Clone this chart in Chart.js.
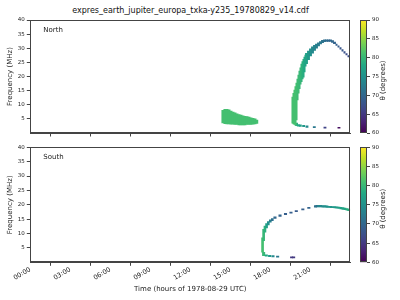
<!DOCTYPE html>
<html>
<head>
<meta charset="utf-8">
<script src="https://cdn.jsdelivr.net/npm/chart.js@4.4.0/dist/chart.umd.min.js"></script>
<style>
body { margin: 0; background: #fff; width: 400px; height: 300px; overflow: hidden; position: relative; font-family: "DejaVu Sans"; }
canvas { position: absolute; }
#title { position: absolute; left: 0; width: 381px; top: 6px; text-align: center; font-size: 8px; color: #111; }
</style>
</head>
<body>
<div id="title">expres_earth_jupiter_europa_txka-y235_19780829_v14.cdf</div>
<canvas id="north" width="360" height="150" style="left:0;top:0"></canvas>
<canvas id="northBar" width="50" height="150" style="left:350px;top:0"></canvas>
<canvas id="south" width="360" height="170" style="left:0;top:130px"></canvas>
<canvas id="southBar" width="50" height="170" style="left:350px;top:130px"></canvas>
<script>
// each row: [time (h), freq low (MHz), freq high (MHz), theta (deg)]
const northBlob = [
    [14.45, 3.6, 8.0, 81], [14.6, 3.3, 8.4, 81], [14.75, 3.2, 8.4, 81], [14.9, 3.2, 8.2, 81],
    [15.05, 3.1, 7.8, 81], [15.2, 3.1, 7.4, 81], [15.35, 3.0, 7.1, 81], [15.5, 3.0, 6.8, 81],
    [15.65, 2.9, 6.5, 81], [15.8, 2.9, 6.3, 81], [15.95, 2.9, 6.1, 81], [16.1, 2.9, 5.9, 81],
    [16.25, 3.0, 5.8, 81], [16.4, 3.0, 5.6, 81], [16.55, 3.0, 5.4, 81], [16.7, 3.1, 5.2, 81],
    [16.85, 3.2, 5.0, 81], [16.98, 3.4, 4.6, 81]
];
// steep rising side of the north arc (fine columns)
const northRise = [
    [19.665, 3.5, 12.7, 81], [19.74, 3.2, 14.0, 81], [19.815, 3.0, 15.2, 81], [19.89, 2.8, 16.4, 81],
    [19.965, 4.6, 17.7, 81], [20.04, 11.7, 19.1, 80.5], [20.115, 14.1, 20.5, 80.5], [20.19, 15.7, 21.9, 80],
    [20.265, 17.3, 23.1, 80], [20.34, 18.2, 24.4, 79.5], [20.415, 19.1, 25.3, 79], [20.49, 19.8, 26.1, 78.5],
    [20.565, 21.6, 26.9, 78], [20.64, 23.7, 27.6, 77.5]
];
const northTop = [
    [20.715, 24.5, 28.2, 77], [20.865, 26.0, 29.0, 76], [21.015, 27.3, 29.8, 75], [21.165, 28.3, 30.5, 74],
    [21.315, 29.2, 31.0, 73.5], [21.465, 30.0, 31.5, 73], [21.615, 30.8, 31.9, 72.5], [21.765, 31.5, 32.4, 72],
    [21.915, 32.0, 32.8, 71.5], [22.065, 32.3, 33.0, 71], [22.215, 32.4, 33.0, 70.5], [22.365, 32.4, 33.0, 70],
    [22.515, 32.4, 33.0, 70], [22.665, 32.1, 32.7, 70], [22.815, 31.6, 32.2, 69.5]
];
const northFall = [
    [22.965, 31.0, 31.5, 69], [23.115, 30.4, 30.9, 68.5], [23.265, 29.7, 30.2, 68], [23.415, 29.0, 29.5, 68],
    [23.565, 28.3, 28.8, 67.5], [23.715, 27.6, 28.1, 67], [23.865, 26.9, 27.4, 67]
];
const northTail = [
    [19.97, 2.6, 3.5, 79], [20.1, 2.4, 3.0, 78], [20.25, 2.3, 2.9, 77], [20.5, 2.2, 2.7, 76],
    [20.75, 2.0, 2.5, 74], [21.3, 1.9, 2.3, 72], [22.1, 1.7, 2.1, 66], [23.15, 1.7, 2.0, 61]
];
const southLeft = [
    [17.42, 3.5, 8.5, 81], [17.5, 7.5, 11.5, 80], [17.6, 10.5, 12.6, 79], [17.72, 12.0, 13.5, 77],
    [17.85, 13.0, 14.2, 75], [18.0, 14.0, 14.8, 73], [18.15, 14.5, 15.2, 71]
];
const southRise = [
    [18.35, 15.3, 15.8, 70], [18.73, 16.0, 16.5, 69.5], [19.14, 16.6, 17.0, 69], [19.55, 17.1, 17.5, 69],
    [19.95, 17.6, 18.0, 68.5], [20.44, 18.2, 18.6, 69], [20.89, 18.7, 19.1, 69.5], [21.39, 19.2, 19.7, 71]
];
const southTop = [
    [21.5, 19.3, 19.8, 73], [21.65, 19.3, 19.8, 73.5], [21.8, 19.3, 19.8, 74], [21.95, 19.2, 19.7, 74.5],
    [22.1, 19.2, 19.7, 75], [22.25, 19.1, 19.6, 75], [22.4, 19.1, 19.5, 75.5], [22.55, 19.0, 19.5, 75.5],
    [22.7, 19.0, 19.4, 76], [22.85, 18.9, 19.4, 76], [23.0, 18.8, 19.3, 76.5], [23.15, 18.7, 19.2, 77],
    [23.3, 18.6, 19.1, 77], [23.45, 18.4, 19.0, 77.5], [23.6, 18.3, 18.9, 78], [23.75, 18.1, 18.7, 78.5],
    [23.88, 18.0, 18.5, 79]
];
const southTail = [
    [17.5, 2.3, 3.5, 80], [17.7, 2.1, 2.6, 78], [17.95, 2.0, 2.4, 76], [18.2, 1.9, 2.3, 74],
    [18.55, 1.8, 2.2, 72], [19.6, 1.5, 1.9, 65], [19.75, 1.5, 1.9, 65]
];
const hourTicks = [0, 3, 6, 9, 12, 15, 18, 21];
const thetaRange = [60, 90];

const viridisStops = ['#440154', '#482475', '#414487', '#355f8d', '#2a788e', '#21918c',
                      '#22a884', '#44bf70', '#7ad151', '#bddf26', '#fde725'];

function hex(c) { return [1, 3, 5].map(i => parseInt(c.slice(i, i + 2), 16)); }
function viridis(f) {
    f = Math.min(1, Math.max(0, f)) * (viridisStops.length - 1);
    const i = Math.min(Math.floor(f), viridisStops.length - 2), k = f - i;
    const a = hex(viridisStops[i]), b = hex(viridisStops[i + 1]);
    return 'rgb(' + a.map((v, j) => Math.round(v + (b[j] - v) * k)).join(',') + ')';
}
const thetaColor = t => viridis((t - thetaRange[0]) / (thetaRange[1] - thetaRange[0]));

const axisColor = '#444';
const textColor = '#222';

// box around the plot + panel name
const framePlugin = label => ({
    id: 'frame',
    afterDraw(chart) {
        const a = chart.chartArea, c = chart.ctx;
        c.save();
        c.strokeStyle = axisColor;
        c.lineWidth = 1;
        c.strokeRect(Math.round(a.left) + 0.5, Math.round(a.top) + 0.5,
            Math.round(a.right - a.left) - 1, Math.round(a.bottom - a.top) - 1);
        if (label) {
            c.fillStyle = textColor;
            c.font = '7px "DejaVu Sans"';
            c.textBaseline = 'middle';
            c.fillText(label, a.left + 13, a.top + 10);
        }
        c.restore();
    }
});

// [rows, bar thickness in px]
function panel(id, label, sets, showX, padTop, xHeight) {
    new Chart(document.getElementById(id), {
        type: 'bar',
        data: {
            datasets: sets.map(([s, w]) => ({
                data: s.map(r => ({ x: r[0], y: [r[1], r[2]] })),
                backgroundColor: s.map(r => thetaColor(r[3])),
                borderWidth: 0,
                barThickness: w,
                grouped: false
            }))
        },
        options: {
            responsive: false,
            animation: false,
            devicePixelRatio: 1,
            layout: { padding: { top: padTop, right: 9.7, left: 0, bottom: 0 } },
            plugins: { legend: { display: false }, tooltip: { enabled: false } },
            scales: {
                x: {
                    type: 'linear', min: 0, max: 24, offset: false,
                    afterBuildTicks: s => { s.ticks = hourTicks.map(v => ({ value: v })); },
                    ticks: {
                        autoSkip: false, maxRotation: 30, minRotation: 30, padding: 0,
                        font: { size: 6.5, family: 'DejaVu Sans' }, color: textColor,
                        callback: v => showX ? String(v).padStart(2, '0') + ':00' : ''
                    },
                    grid: { drawOnChartArea: false, tickLength: 3.5, color: axisColor },
                    border: { color: axisColor },
                    title: {
                        display: showX, text: 'Time (hours of 1978-08-29 UTC)',
                        font: { size: 7, family: 'DejaVu Sans' }, color: textColor, padding: { top: 0, bottom: 7 }
                    },
                    afterFit: s => { s.height = xHeight; }
                },
                y: {
                    min: 0, max: 40,
                    ticks: {
                        stepSize: 5, padding: 2, font: { size: 5.5, family: 'DejaVu Sans' }, color: textColor,
                        callback: v => v === 0 ? null : v
                    },
                    grid: { drawOnChartArea: false, tickLength: 3.5, color: axisColor },
                    border: { color: axisColor },
                    title: {
                        display: true, text: 'Frequency (MHz)',
                        font: { size: 7, family: 'DejaVu Sans' }, color: textColor, padding: { top: 6, bottom: 0 }
                    },
                    afterFit: s => { s.width = 30.3; }
                }
            }
        },
        plugins: [framePlugin(label)]
    });
}

function colorbar(id, padTop, padBottom) {
    new Chart(document.getElementById(id), {
        type: 'bar',
        data: {
            labels: [''],
            datasets: [{
                data: [thetaRange],
                backgroundColor: ctx => {
                    const a = ctx.chart.chartArea;
                    if (!a) return null;
                    const g = ctx.chart.ctx.createLinearGradient(0, a.bottom, 0, a.top);
                    viridisStops.forEach((col, i) => g.addColorStop(i / (viridisStops.length - 1), col));
                    return g;
                },
                borderWidth: 0,
                barPercentage: 1,
                categoryPercentage: 1
            }]
        },
        options: {
            responsive: false,
            animation: false,
            devicePixelRatio: 1,
            layout: { padding: { top: padTop, left: 10, bottom: padBottom, right: 0 } },
            plugins: { legend: { display: false }, tooltip: { enabled: false } },
            scales: {
                x: { display: false },
                y: {
                    position: 'right', min: thetaRange[0], max: thetaRange[1],
                    ticks: { stepSize: 5, padding: 2, font: { size: 5.5, family: 'DejaVu Sans' }, color: textColor },
                    grid: { drawOnChartArea: false, tickLength: 3, color: axisColor },
                    border: { display: false },
                    afterFit: s => { s.width = 33; }
                }
            }
        },
        plugins: [framePlugin(null), {
            id: 'cbLabel',
            afterDraw(chart) {
                const a = chart.chartArea, c = chart.ctx;
                c.save();
                c.translate(33.5, (a.top + a.bottom) / 2 + 4);
                c.rotate(-Math.PI / 2);
                c.fillStyle = textColor;
                c.font = '7px "DejaVu Sans"';
                c.textAlign = 'center';
                c.textBaseline = 'middle';
                c.fillText('θ (degrees)', 0, 0);
                c.restore();
            }
        }]
    });
}

panel('north', 'North', [[northBlob, 2.4], [northRise, 1.4], [northTop, 2.2], [northFall, 1.3], [northTail, 2.2]], false, 20, 17);
panel('south', 'South', [[southLeft, 2], [southRise, 2.4], [southTop, 2.2], [southTail, 2.4]], true, 17.3, 37.7);
colorbar('northBar', 20, 17);
colorbar('southBar', 17.3, 37.7);
</script>
</body>
</html>
